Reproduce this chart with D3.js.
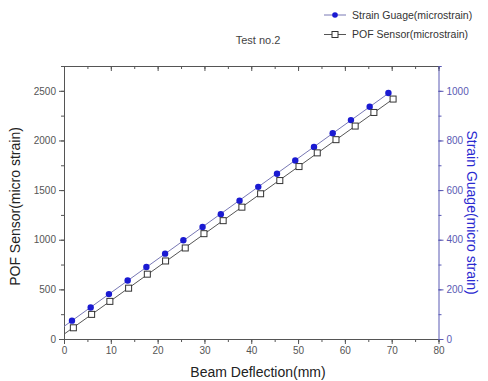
<!DOCTYPE html>
<head>
<meta charset="utf-8">
<title>Test no.2</title>
<style>
body { margin: 0; background: #fff; }
text { font-family: "Liberation Sans", Arial, sans-serif; }
</style>
</head>
<body>
<script src="https://d3js.org/d3.v7.min.js"></script>
<script>
var ugiecieSG = [1.7, 5.7, 9.6, 13.6, 17.6, 21.6, 25.5, 29.6, 33.5, 37.5, 41.5, 45.5, 49.4, 53.4, 57.4, 61.3, 65.3, 69.3];
var strainGauge = [74, 127, 181, 236, 290, 344, 398, 451, 503, 557, 613, 666, 719, 774, 829, 882, 936, 991];
var ugieciePOF = [2, 5.9, 9.8, 13.8, 17.8, 21.7, 25.9, 29.9, 34, 38, 42, 46.1, 50.2, 54.1, 58.1, 62.2, 66.2, 70.3];
var pofSensor = [113, 248, 379, 512, 653, 786, 917, 1061, 1192, 1328, 1463, 1596, 1737, 1875, 2008, 2145, 2282, 2417];
var xTicks = [0, 10, 20, 30, 40, 50, 60, 70, 80];
var yLewyTicks = [0, 500, 1000, 1500, 2000, 2500];
var yPrawyTicks = [0, 200, 400, 600, 800, 1000];

var width = 488, height = 381;
var osL = 64, osP = 438.5, osG = 66, osD = 339; // krawedzie ramki
var szary = '#555', niebieski = '#5a5ab4';

var svg = d3.select('body').append('svg')
  .attr('width', width).attr('height', height);

var x = d3.scaleLinear().domain([0, 80]).range([osL, osP]);
var yL = d3.scaleLinear().domain([0, 2750]).range([osD, osG]);
var yR = d3.scaleLinear().domain([0, 1100]).range([osD, osG]);

// funkcja rysujaca os z tickami glownymi i pomocniczymi
function os(g, axisFn, scale, major, minor, kolor, labels) {
  g.call(axisFn(scale).tickValues(minor).tickSize(3).tickFormat(''));
  var g2 = g.append('g').call(axisFn(scale).tickValues(major).tickSize(5).tickPadding(3)
    .tickFormat(labels ? d3.format('d') : ''));
  g.selectAll('.domain').attr('stroke', kolor);
  g.selectAll('line').attr('stroke', kolor);
  g.selectAll('text').attr('fill', kolor).style('font-size', '10px').attr('font-family', null);
  g2.select('.domain').remove();
}

var minorX = d3.range(0, 81, 5);
os(svg.append('g').attr('transform', 'translate(0,' + osD + ')'), d3.axisBottom, x, xTicks, minorX, szary, true);
os(svg.append('g').attr('transform', 'translate(0,' + osG + ')'), d3.axisBottom, x, xTicks, minorX, szary, false);
os(svg.append('g').attr('transform', 'translate(' + osL + ',0)'), d3.axisLeft, yL, yLewyTicks, d3.range(0, 2751, 250), szary, true);
os(svg.append('g').attr('transform', 'translate(' + osP + ',0)'), d3.axisRight, yR, yPrawyTicks, d3.range(0, 1101, 100), niebieski, true);

// linie dopasowania (najmniejsze kwadraty) od x=0 do ostatniego punktu
function dopasowanie(xs, ys) {
  var mx = d3.mean(xs), my = d3.mean(ys);
  var a = d3.sum(xs, function(v, i){ return (v - mx) * (ys[i] - my); }) / d3.sum(xs, function(v){ return (v - mx) * (v - mx); });
  var b = my - a * mx;
  return [[0, b], [d3.max(xs), b + a * d3.max(xs)]];
}
var linia = d3.line();
var fitSG = dopasowanie(ugiecieSG, strainGauge);
var fitPOF = dopasowanie(ugieciePOF, pofSensor);

svg.append('path')
  .attr('d', linia(fitSG.map(function(p){ return [x(p[0]), yR(p[1])]; })))
  .attr('stroke', '#7878b4').attr('stroke-width', 1).attr('fill', 'none');
svg.append('path')
  .attr('d', linia(fitPOF.map(function(p){ return [x(p[0]), yL(p[1])]; })))
  .attr('stroke', '#555').attr('stroke-width', 1).attr('fill', 'none');

svg.selectAll('circle.sg')
  .data(ugiecieSG)
  .enter().append('circle')
  .attr('class', 'sg')
  .attr('cx', function(d) { return x(d); })
  .attr('cy', function(d, i) { return yR(strainGauge[i]); })
  .attr('r', 3.2)
  .attr('fill', '#1a1ad2');

svg.selectAll('rect.pof')
  .data(ugieciePOF)
  .enter().append('rect')
  .attr('class', 'pof')
  .attr('x', function(d) { return x(d) - 3; })
  .attr('y', function(d, i) { return yL(pofSensor[i]) - 3; })
  .attr('width', 6).attr('height', 6)
  .attr('fill', '#fff').attr('stroke', '#333').attr('stroke-width', 1);

// teksty
svg.append('text').attr('x', 258).attr('y', 44).attr('text-anchor', 'middle')
  .style('font-size', '11px').attr('fill', '#444').text('Test no.2');
svg.append('text').attr('x', 258).attr('y', 377).attr('text-anchor', 'middle')
  .style('font-size', '14px').attr('fill', '#222').text('Beam Deflection(mm)');
svg.append('text').attr('transform', 'translate(20,' + ((osG + osD) / 2 + 4) + ') rotate(-90)')
  .attr('text-anchor', 'middle').style('font-size', '14px').attr('fill', '#222')
  .text('POF Sensor(micro strain)');
svg.append('text').attr('transform', 'translate(467,' + ((osG + osD) / 2 + 10) + ') rotate(90)')
  .attr('text-anchor', 'middle').style('font-size', '14px').attr('fill', '#2a2ad0')
  .text('Strain Guage(micro strain)');

// legenda
var legenda = [
  {nazwa: 'Strain Guage(microstrain)', kolor: '#7878b4', znak: 'circle'},
  {nazwa: 'POF Sensor(microstrain)', kolor: '#555', znak: 'rect'}
];
var lg = svg.selectAll('g.leg').data(legenda).enter().append('g')
  .attr('transform', function(d, i) { return 'translate(324,' + (15 + i * 19.5) + ')'; });
lg.append('line').attr('x1', 0).attr('x2', 22).attr('y1', 0).attr('y2', 0)
  .attr('stroke', function(d) { return d.kolor; });
lg.filter(function(d) { return d.znak == 'circle'; }).append('circle')
  .attr('cx', 11).attr('cy', 0).attr('r', 2.8).attr('fill', '#1a1ad2');
lg.filter(function(d) { return d.znak == 'rect'; }).append('rect')
  .attr('x', 8).attr('y', -3).attr('width', 6).attr('height', 6)
  .attr('fill', '#fff').attr('stroke', '#333');
lg.append('text').attr('x', 28).attr('y', 3.5).style('font-size', '10.5px').attr('fill', '#333')
  .text(function(d) { return d.nazwa; });
</script>
</body>
</html>
